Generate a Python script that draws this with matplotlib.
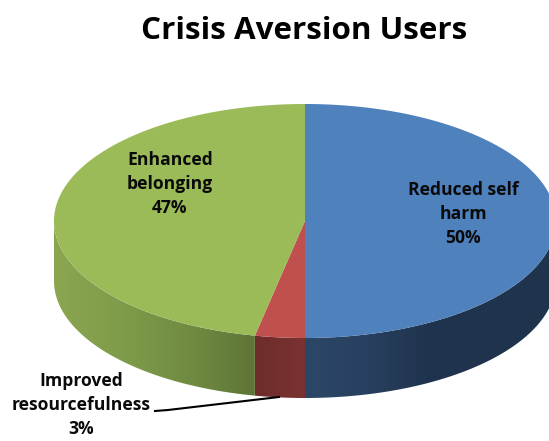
import numpy as np
import matplotlib.pyplot as plt
from matplotlib.colors import LinearSegmentedColormap
from matplotlib.patches import Polygon

plt.rcParams['font.family'] = ['Open Sans', 'DejaVu Sans']

# Chart values
categories = ['Reduced self\nharm', 'Improved\nresourcefulness', 'Enhanced\nbelonging']
values = [50, 3.2, 46.8]
percent_labels = ['50%', '3%', '47%']
top_colors = ['#4f81bd', '#c0504d', '#9bbb59']

W, H = 549, 441
fig = plt.figure(figsize=(W / 100, H / 100), dpi=100)
ax = fig.add_axes([0, 0, 1, 1])
ax.set_xlim(0, W)
ax.set_ylim(H, 0)
ax.axis('off')

cx, cy = 305, 221
rx, ry = 251, 117
depth = 60


def ell(theta):
    # theta clockwise from 12 o'clock, in degrees
    t = np.radians(theta)
    return cx + rx * np.sin(t), cy - ry * np.cos(t)


start = 0
bounds = []
for v in values:
    bounds.append((start, start + v * 3.6))
    start += v * 3.6

side_maps = [
    LinearSegmentedColormap.from_list('b', ['#2b4767', '#28405f', '#1f334d', '#1f334d', '#1f344e']),
    LinearSegmentedColormap.from_list('r', ['#6e2c2b', '#7a3331']),
    LinearSegmentedColormap.from_list('g', ['#8ba650', '#7f9c4a', '#718c42', '#5f7538']),
]

# Side wall, drawn piece by piece so it can carry a gradient
for i, (a, b) in enumerate(bounds):
    thetas = np.linspace(max(a, 90), min(b, 270), 80)
    xs, ys = ell(thetas)
    verts = list(zip(xs, ys)) + list(zip(xs[::-1], ys[::-1] + depth))
    poly = Polygon(verts, closed=True, facecolor='none', edgecolor='none')
    ax.add_patch(poly)
    grad = np.linspace(0, 1, 256).reshape(1, -1)
    x0, x1 = xs.min(), xs.max()
    if i == 0:
        x1 = cx + rx
    im = ax.imshow(grad, extent=[x0, x1, H, 0], cmap=side_maps[i], aspect='auto', zorder=1)
    im.set_clip_path(poly)
ax.set_xlim(0, W)
ax.set_ylim(H, 0)

# Top face
for i, (a, b) in enumerate(bounds):
    thetas = np.linspace(a, b, 120)
    xs, ys = ell(thetas)
    verts = [(cx, cy)] + list(zip(xs, ys))
    ax.add_patch(Polygon(verts, closed=True, facecolor=top_colors[i], edgecolor='none', zorder=2))

ax.text(304, 31, 'Crisis Aversion Users', ha='center', va='center', fontsize=22.6,
        fontweight='bold', color='black')

label_font = dict(ha='center', va='center', fontsize=12.6, fontweight='bold',
                  color='#0a0a0a', linespacing=1.46, zorder=3)
ax.text(463, 214, categories[0] + '\n' + percent_labels[0], **label_font)
ax.text(170, 184, categories[2] + '\n' + percent_labels[2], **label_font)
ax.text(81, 405, categories[1] + '\n' + percent_labels[1], **label_font)

# Leader line for the small slice
ax.plot([155, 168, 279], [411, 410, 397], color='black', lw=1.5, zorder=3)

fig.savefig('out.png', dpi=100, facecolor='white')
